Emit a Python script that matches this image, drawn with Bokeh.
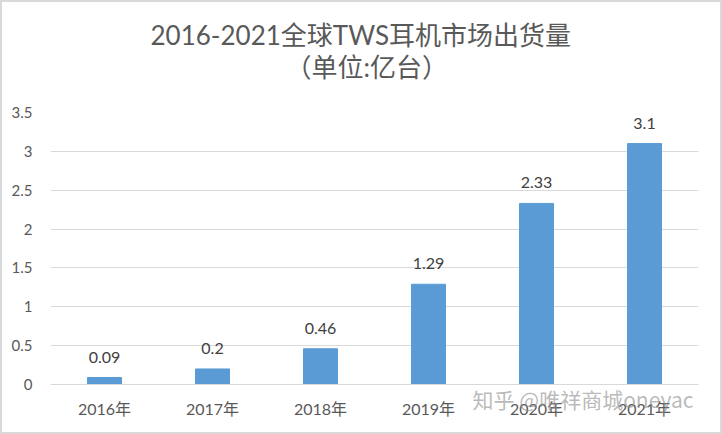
from bokeh.plotting import figure
from bokeh.models import ColumnDataSource, LabelSet, Title, FixedTicker, CustomJSTickFormatter
from bokeh.core.properties import value
from bokeh.embed import file_html
from bokeh.resources import INLINE

years = ["2016年", "2017年", "2018年", "2019年", "2020年", "2021年"]
shipments = [0.09, 0.2, 0.46, 1.29, 2.33, 3.1]
labels = ["0.09", "0.2", "0.46", "1.29", "2.33", "3.1"]
y_ticks = [0, 0.5, 1, 1.5, 2, 2.5, 3, 3.5]
title_line1 = "2016-2021全球TWS耳机市场出货量"
title_line2 = "（单位:亿台）"
watermark = "知乎 @唯祥商城oneyac"

FONT = "Lato, 'Noto Sans CJK SC', sans-serif"

src = ColumnDataSource(dict(x=years, y=shipments, lab=labels))

p = figure(x_range=years, y_range=(0, 3.5), width=722, height=434,
           output_backend="svg", toolbar_location=None, title=" ",
           min_border_left=48, min_border_right=26, min_border_bottom=52, min_border_top=100)
p.styles = {"border": "2px solid #d9d9d9", "box-sizing": "border-box"}

# outermost spacer title
p.title.text_font_size = "1px"
p.title.standoff = 9

# above panels: first in list is nearest to the plot frame
p.add_layout(Title(text=" ", text_font_size="1px", standoff=31), "above")
p.add_layout(Title(text=title_line2, align="left", offset=235, text_font=FONT,
                   text_font_size="26px", text_font_style="normal",
                   text_color="#595959", standoff=-8), "above")
p.add_layout(Title(text=title_line1, align="left", offset=100, text_font=FONT,
                   text_font_size="26px", text_font_style="normal",
                   text_color="#595959", standoff=4), "above")

p.vbar(x="x", top="y", width=0.315, source=src, color="#5B9BD5")

p.add_layout(LabelSet(x="x", y="y", text="lab", source=src, text_align="center",
                      text_baseline="alphabetic", y_offset=15, text_font_size="16px",
                      text_font=value(FONT), text_color="#404040"))

p.outline_line_color = None
p.background_fill_color = "white"
p.border_fill_color = "white"
p.xgrid.grid_line_color = None
p.ygrid.grid_line_color = "#d9d9d9"
p.ygrid.grid_line_width = 1.2

p.yaxis.ticker = FixedTicker(ticks=y_ticks)
p.yaxis.formatter = CustomJSTickFormatter(code="return String(tick);")
p.yaxis.axis_line_color = None
p.yaxis.major_tick_line_color = None
p.yaxis.minor_tick_line_color = None
p.yaxis.major_label_standoff = 12
p.yaxis.major_label_text_font = FONT
p.yaxis.major_label_text_font_size = "15px"
p.yaxis.major_label_text_color = "#595959"

xax = p.xaxis[0]
xax.axis_line_color = "#d9d9d9"
xax.axis_line_width = 1.2
xax.major_tick_line_color = None
xax.minor_tick_line_color = None
xax.major_label_standoff = 8
xax.major_label_text_font = FONT
xax.major_label_text_font_size = "16px"
xax.major_label_text_color = "#595959"

# watermark drawn as the x-axis label, pulled up over the tick labels
aligned = False
for v in ("end", "right"):
    try:
        xax.axis_label_align = v
        aligned = True
        break
    except Exception:
        pass
if aligned:
    xax.axis_label = watermark + "\u3000" * 11
else:
    xax.axis_label = "\u3000" * 19 + watermark
xax.axis_label_standoff = -37
xax.axis_label_text_font = "'Noto Sans CJK SC', sans-serif"
xax.axis_label_text_font_size = "21px"
xax.axis_label_text_font_style = "normal"
xax.axis_label_text_color = "#8c8c8c"
xax.axis_label_text_alpha = 0.6

open("out.html", "w").write(file_html(p, INLINE))
